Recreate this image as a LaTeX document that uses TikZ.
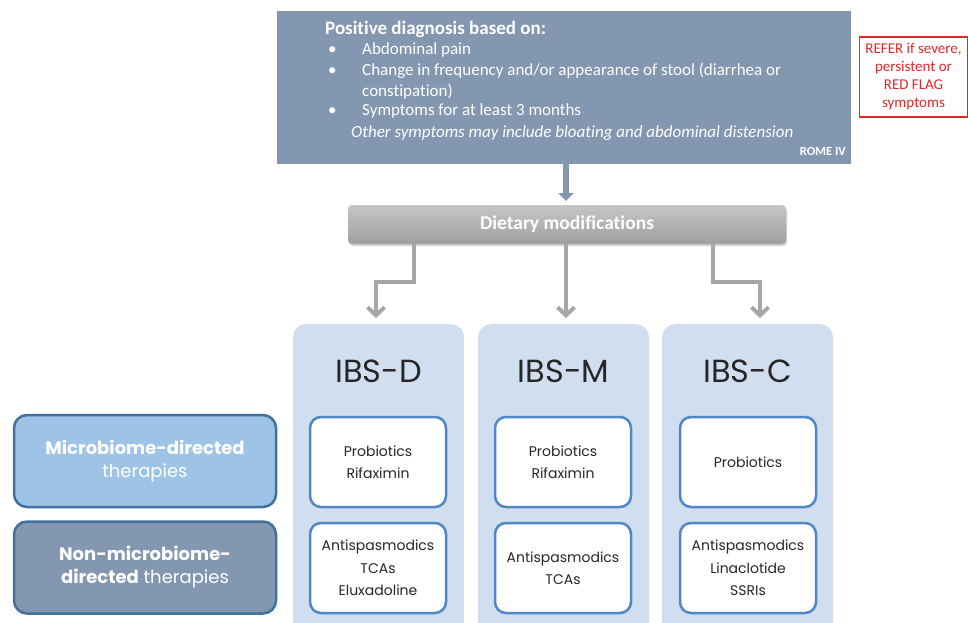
\documentclass[tikz,border=0pt]{standalone}
\usepackage{fontspec}
\setmainfont[Ligatures=NoCommon]{Carlito}
\newfontfamily\gothic{Poppins}
\usetikzlibrary{shadows,arrows.meta}
\definecolor{slate}{HTML}{8497B0}
\definecolor{colbg}{HTML}{D0DEEF}
\definecolor{inblue}{HTML}{4F87C7}
\definecolor{lblue}{HTML}{9DC3E6}
\definecolor{dborder}{HTML}{41719C}
\definecolor{arrgray}{HTML}{A6A6A6}
\definecolor{refred}{HTML}{E32727}
\definecolor{txtdark}{HTML}{262626}
\tikzset{
  diagbox/.style={fill=slate, draw=none, minimum width=574pt, minimum height=153pt, inner sep=0pt},
  topline/.style={anchor=base west, text=white, inner sep=0pt, font=\fontsize{17}{20}\selectfont},
  bulletdot/.style={anchor=base west, text=white, inner sep=0pt, font=\fontsize{17}{20}\selectfont},
  redbox/.style={draw=refred, line width=1.5pt, text=refred, align=center, minimum width=108pt, minimum height=80pt, inner sep=0pt, font=\fontsize{15}{18}\selectfont},
  dietbox/.style={rounded corners=4pt, top color=gray!45, bottom color=gray!75, middle color=gray!60, draw=none, minimum width=438pt, minimum height=39pt, inner sep=0pt, text=white, font=\bfseries\fontsize{19.5}{22}\selectfont, drop shadow={opacity=0.35, shadow xshift=1pt, shadow yshift=-2pt}},
  colbox/.style={fill=colbg, draw=none, rounded corners=13pt, minimum width=171pt, minimum height=330pt, inner sep=0pt},
  coltitle/.style={text=txtdark, inner sep=0pt, font=\gothic\fontsize{32}{36}\selectfont},
  inbox/.style={fill=white, draw=inblue, line width=2.5pt, rounded corners=11pt, minimum width=136pt, minimum height=90pt, inner sep=0pt, align=center, text=txtdark, font=\gothic\fontsize{14}{22.5}\selectfont},
  sidebox/.style={draw=dborder, line width=2.5pt, rounded corners=13pt, minimum width=262pt, minimum height=92pt, inner sep=0pt, align=center, text=white, font=\gothic\fontsize{18}{23}\selectfont},
  garrow/.style={draw=arrgray, line width=4pt, -{Straight Barb[length=8pt, width=17pt, line width=4pt]}},
  sarrow/.style={draw=slate, line width=6pt, -{Triangle[length=8pt, width=15pt]}}
}
\begin{document}
\begin{tikzpicture}[x=1pt, y=-1pt]
\useasboundingbox (0,0) rectangle (968,623);
% top diagnosis box
\node[diagbox] (diag) at (564,87.5) {};
\node[topline, font=\bfseries\fontsize{19}{22}\selectfont] (t0) at (325,35) {Positive diagnosis based on:};
\node[bulletdot] (b1) at (328,55) {•};
\node[topline] (t1) at (362,55) {Abdominal pain};
\node[bulletdot] (b2) at (328,75.5) {•};
\node[topline] (t2) at (362,75.5) {Change in frequency and/or appearance of stool (diarrhea or};
\node[topline] (t3) at (362,96) {constipation)};
\node[bulletdot] (b3) at (328,116) {•};
\node[topline] (t4) at (362,116) {Symptoms for at least 3 months};
\node[topline, font=\itshape\fontsize{17}{20}\selectfont] (t5) at (351,137) {Other symptoms may include bloating and abdominal distension};
\node[anchor=base east, text=white, inner sep=0pt, font=\bfseries\fontsize{12.5}{14}\selectfont] (rome) at (846,155) {ROME IV};
% refer box
\node[redbox] (refer) at (913.5,77) {REFER if severe,\\persistent or\\RED FLAG\\symptoms};
% dietary
\node[dietbox] (diet) at (567,224.5) {Dietary modifications};
\draw[sarrow] (diag.south -| 566,0) -- (566,201);
% columns
\node[colbox, anchor=north] (col1) at (378.5,324) {};
\node[colbox, anchor=north] (col2) at (563.5,324) {};
\node[colbox, anchor=north] (col3) at (747.5,324) {};
\node[coltitle, anchor=base] (h1) at (378.5,382) {IBS-D};
\node[coltitle, anchor=base] (h2) at (563.5,382) {IBS-M};
\node[coltitle, anchor=base] (h3) at (747.5,382) {IBS-C};
% arrows from dietary
\coordinate (tip1) at (376,318);
\coordinate (tip2) at (566,318);
\coordinate (tip3) at (760,318);
\draw[garrow] ([xshift=-153pt]diet.south) -- ++(0,38) -| (tip1);
\draw[garrow] ([xshift=-1pt]diet.south) -- (tip2);
\draw[garrow] ([xshift=146pt]diet.south) -- ++(0,38) -| (tip3);
% inner boxes
\node[inbox] (d1) at (378,462) {Probiotics\\Rifaximin};
\node[inbox] (d2) at (378,568) {Antispasmodics\\TCAs\\Eluxadoline};
\node[inbox] (m1) at (563,462) {Probiotics\\Rifaximin};
\node[inbox] (m2) at (563,568) {Antispasmodics\\TCAs};
\node[inbox] (c1) at (748,462) {Probiotics};
\node[inbox] (c2) at (748,568) {Antispasmodics\\Linaclotide\\SSRIs};
% side boxes
\node[sidebox, fill=lblue] (micro) at (145,461) {\textbf{Microbiome-directed}\\therapies};
\node[sidebox, fill=slate] (nonmicro) at (145,567.5) {\textbf{Non-microbiome-}\\\textbf{directed} therapies};
\end{tikzpicture}
\end{document}
